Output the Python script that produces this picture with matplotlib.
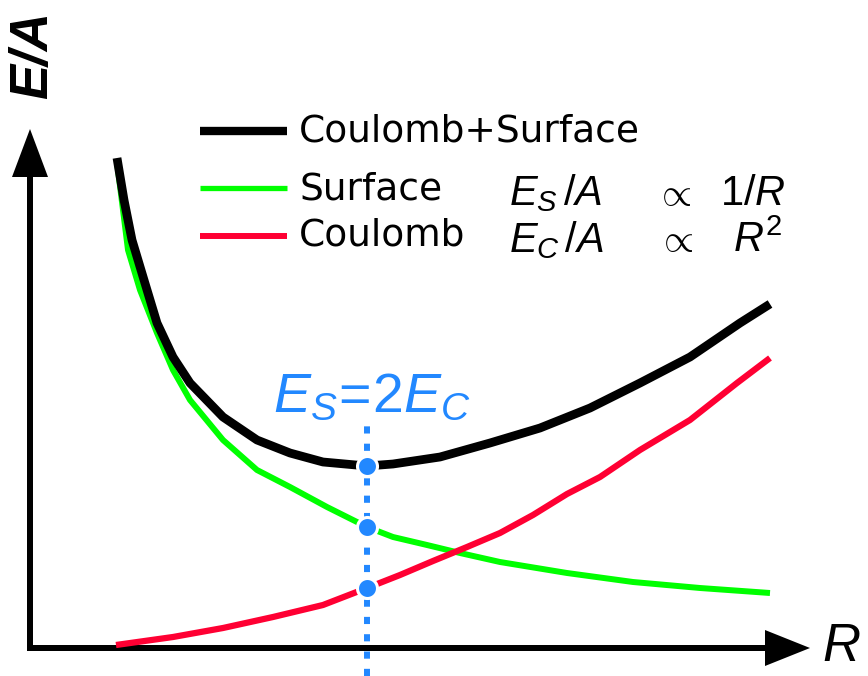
import matplotlib
matplotlib.use('Agg')
import matplotlib.pyplot as plt

plt.rcParams['mathtext.fontset'] = 'custom'
plt.rcParams['mathtext.it'] = 'Liberation Sans:italic'
plt.rcParams['mathtext.rm'] = 'Liberation Sans'
plt.rcParams['mathtext.bf'] = 'Liberation Sans:bold'

BLUE = '#2288ff'
GREEN = '#00ff00'
RED = '#ff0033'

W, H = 868, 676

# curves (R, E/A in arbitrary units)
total_r = [0.87, 0.94, 1.02, 1.14, 1.27, 1.43, 1.60, 1.93, 2.27, 2.60, 2.93,
           3.37, 3.63, 4.10, 4.60, 5.10, 5.60, 6.10, 6.60, 7.10, 7.40]
total_e = [4.90, 4.48, 4.08, 3.68, 3.25, 2.91, 2.65, 2.31, 2.08, 1.95, 1.86,
           1.82, 1.84, 1.91, 2.05, 2.20, 2.40, 2.65, 2.91, 3.25, 3.44]

surface_r = [0.87, 0.98, 1.10, 1.27, 1.43, 1.60, 1.93, 2.27, 2.60, 2.97,
             3.37, 3.63, 3.97, 4.30, 4.70, 5.37, 6.03, 6.70, 7.40]
surface_e = [4.86, 3.98, 3.58, 3.15, 2.78, 2.48, 2.08, 1.78, 1.61, 1.41,
             1.21, 1.11, 1.03, 0.95, 0.86, 0.75, 0.66, 0.60, 0.55]

coulomb_r = [0.86, 1.43, 1.93, 2.43, 2.93, 3.37, 3.70, 4.03, 4.37, 4.70,
             5.03, 5.37, 5.70, 6.10, 6.60, 7.07, 7.40]
coulomb_e = [0.03, 0.11, 0.20, 0.31, 0.43, 0.60, 0.73, 0.87, 1.01, 1.15,
             1.33, 1.54, 1.71, 1.98, 2.28, 2.65, 2.90]

# the point where E_S = 2 E_C
r_min = 3.37
min_e = [1.82, 1.21, 0.60]   # total, surface, coulomb
marker_top = 2.23

legend_labels = ['Coulomb+Surface', 'Surface', 'Coulomb']


def px(x, y):
    ''' pixel position in the picture -> figure fraction '''
    return x / W, 1 - y / H


fig = plt.figure(figsize=(W / 100, H / 100), dpi=100)
ax = fig.add_axes([0, 0, 1, 1])
ax.set_xlim(-0.30, 8.38)
ax.set_ylim(-0.28, 6.48)
ax.axis('off')

# axes with arrow heads
ax.arrow(-0.03, 0, 7.83, 0, width=0.06, head_width=0.36, head_length=0.45,
         length_includes_head=True, fc='k', ec='none', zorder=1)
ax.arrow(0, -0.03, 0, 5.22, width=0.06, head_width=0.36, head_length=0.48,
         length_includes_head=True, fc='k', ec='none', zorder=1)

# dotted marker line
ax.plot([r_min, r_min], [-0.28, marker_top], color=BLUE, lw=4.3,
        dashes=(1.2, 1.7), dash_capstyle='butt', zorder=2)

ax.plot(surface_r, surface_e, color=GREEN, lw=4.3, solid_joinstyle='round',
        solid_capstyle='butt', zorder=3)
ax.plot(coulomb_r, coulomb_e, color=RED, lw=4.5, solid_joinstyle='round',
        solid_capstyle='butt', zorder=3.5)
ax.plot(total_r, total_e, color='k', lw=6.3, solid_joinstyle='round',
        solid_capstyle='butt', zorder=4)

ax.plot([r_min] * 3, min_e, 'o', ms=14.4, mfc=BLUE, mec='white', mew=2.2,
        zorder=5)

# hand made legend
for (y, c, lw) in [(131, 'k', 6.0), (188, GREEN, 3.8), (236, RED, 4.3)]:
    fig.add_artist(plt.Line2D([200 / W, 287 / W], [1 - y / H] * 2,
                              color=c, lw=lw, solid_capstyle='butt'))

fig.text(*px(299, 141), legend_labels[0], fontsize=27, family='DejaVu Sans',
         va='baseline')
fig.text(*px(299, 199), legend_labels[1], fontsize=27, family='DejaVu Sans',
         va='baseline')
fig.text(*px(299, 245), legend_labels[2], fontsize=27, family='DejaVu Sans',
         va='baseline')

fig.text(*px(509, 205), r'$E_S\,/A$', fontsize=30, va='baseline')
fig.text(*px(509, 252), r'$E_C\,/A$', fontsize=30, va='baseline')
fig.text(*px(673, 194), r'$\propto$', fontsize=28, ha='center', va='center')
fig.text(*px(675, 240), r'$\propto$', fontsize=28, ha='center', va='center')
fig.text(*px(720, 205), r'$1/R$', fontsize=30, va='baseline')
fig.text(*px(733, 252), r'$R^2$', fontsize=30, va='baseline')

fig.text(*px(273, 412), r'$E_S\!=\!2E_C$', fontsize=40, color=BLUE,
         va='baseline')

# axis labels
fig.text(*px(33, 55), 'E/A', rotation=90, fontsize=38, style='italic',
         weight='bold', family='Liberation Sans', ha='center', va='center')
fig.text(*px(822, 672), r'$R$', fontsize=38, va='bottom')

fig.savefig('out.png', dpi=100)
